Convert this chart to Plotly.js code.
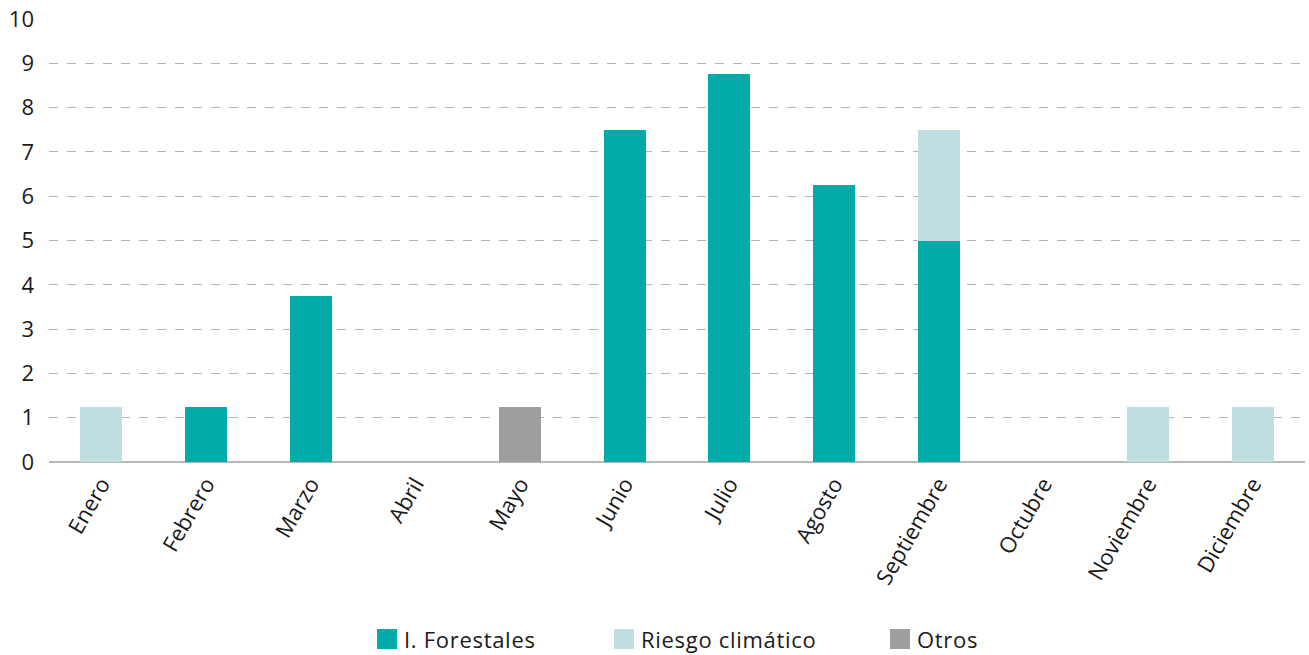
<!DOCTYPE html>
<html>
<head>
<meta charset="utf-8">
<script src="https://cdn.plot.ly/plotly-3.0.1.min.js"></script>
<style>
html,body{margin:0;padding:0;background:#fff;}
#chart{width:1309px;height:655px;}
</style>
</head>
<body>
<div id="chart"></div>
<script>
const meses = ["Enero","Febrero","Marzo","Abril","Mayo","Junio","Julio","Agosto","Septiembre","Octubre","Noviembre","Diciembre"];
const forestales = [0, 1.25, 3.75, 0, 0, 7.5, 8.75, 6.25, 5, 0, 0, 0];
const riesgo = [1.25, 0, 0, 0, 0, 0, 0, 0, 2.5, 0, 1.25, 1.25];
const otros = [0, 0, 0, 0, 1.25, 0, 0, 0, 0, 0, 0, 0];
const yTicks = [0,1,2,3,4,5,6,7,8,9,10];
const serieNombres = ["I. Forestales", "Riesgo climático", "Otros"];
const serieColores = ["#00ABA9", "#BFDFE3", "#9E9E9E"];

const traces = [forestales, riesgo, otros].map((vals, i) => ({
  type:"bar", name:serieNombres[i], x:meses, y:vals,
  marker:{color:serieColores[i]}, width:0.4
}));

const layout = {
  width:1309, height:655,
  margin:{l:49, r:4, t:19, b:193},
  barmode:"stack",
  paper_bgcolor:"#fff", plot_bgcolor:"#fff",
  font:{family:"Open Sans, Noto Sans, sans-serif", size:22, color:"#1a1a1a"},
  xaxis:{
    tickangle:-60, showgrid:false, showline:false, zeroline:false, automargin:false,
    ticks:"", ticklabelstandoff:4, tickfont:{size:22, color:"#1a1a1a"}
  },
  yaxis:{
    range:[0,10], tickvals:yTicks, ticktext:yTicks.map(String), automargin:false,
    showgrid:true, gridcolor:"#b3b3b3", griddash:"dash", gridwidth:1,
    zeroline:true, zerolinecolor:"#b8b8b8", zerolinewidth:2,
    ticks:"", ticklabelstandoff:14, tickfont:{size:22, color:"#1a1a1a"}, fixedrange:true
  },
  showlegend:true,
  legend:{orientation:"h", x:0.5, xanchor:"center", y:-0.3, yanchor:"middle",
          bgcolor:"rgba(0,0,0,0)", borderwidth:0,
          font:{size:22, color:"#1a1a1a"}, traceorder:"normal"}
};

// Legend square centres and vertical centre (px) as in the reference layout
const legendSquareX = [387, 624, 900];
const legendCenterY = 639;

Plotly.newPlot("chart", traces, layout, {displayModeBar:false, staticPlot:true}).then(gd => {
  const sb = gd.querySelector('.legend .scrollbox');
  if (sb) sb.removeAttribute('clip-path');
  const bg = gd.querySelector('.legend rect.bg');
  if (bg) bg.style.fill = 'rgba(0,0,0,0)';
  const items = gd.querySelectorAll('.legend .traces');
  items.forEach((it, i) => {
    const p = it.querySelector('.legendpoints path');
    if (p) p.setAttribute('d', 'M10,10H-10V-10H10Z');
    const r = p.getBoundingClientRect();
    const cx = r.left + r.width/2, cy = r.top + r.height/2;
    const dx = legendSquareX[i] - cx, dy = legendCenterY - cy;
    const tr = it.getAttribute('transform') || '';
    const m = tr.match(/translate\(\s*([-\d.]+)[ ,]+([-\d.]+)\s*\)/);
    const a = m ? parseFloat(m[1]) : 0, b = m ? parseFloat(m[2]) : 0;
    it.setAttribute('transform', `translate(${a+dx},${b+dy})`);
    const t = it.querySelector('text.legendtext');
    if (t) {
      t.style.letterSpacing = '0.7px';
      const tr2 = t.getBoundingClientRect();
      const wantLeft = legendSquareX[i] + 10 + 7;
      const cur = parseFloat(t.getAttribute('x') || '0');
      t.setAttribute('x', cur + (wantLeft - tr2.left));
    }
  });
});
</script>
</body>
</html>
